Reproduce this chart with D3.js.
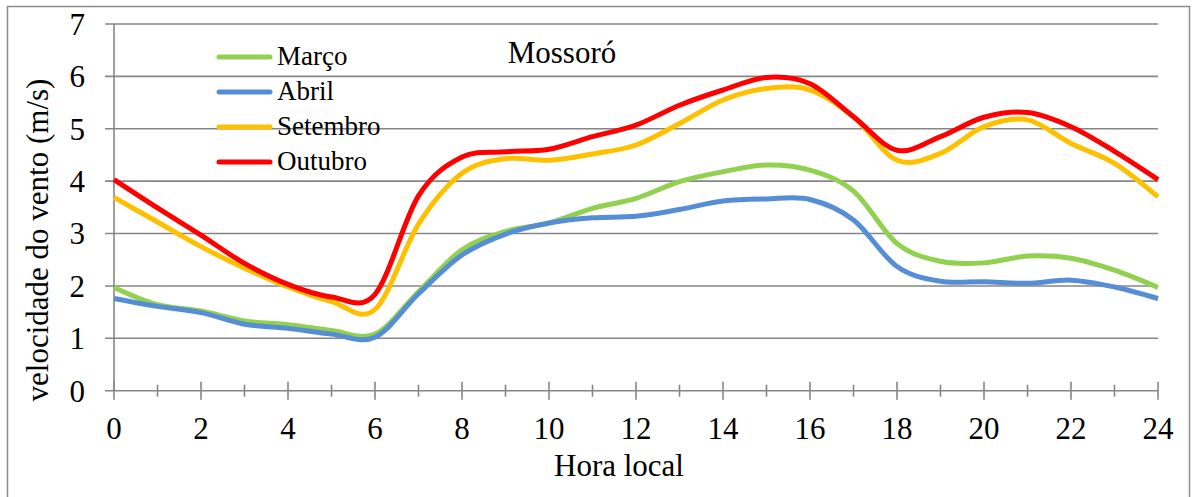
<!DOCTYPE html>
<html>
<head>
<meta charset="utf-8">
<script src="https://cdn.jsdelivr.net/npm/d3@7"></script>
<style>
  html, body { margin: 0; padding: 0; background: #fff; }
  svg { display: block; font-family: "Liberation Serif", "Times New Roman", serif; }
</style>
</head>
<body>
<svg id="chart" width="1192" height="497"></svg>
<script>
const hours = d3.range(0, 25);
const xTickLabels = [0, 2, 4, 6, 8, 10, 12, 14, 16, 18, 20, 22, 24];
const yTickLabels = [0, 1, 2, 3, 4, 5, 6, 7];
const seriesNames = ["Março", "Abril", "Setembro", "Outubro"];
const seriesColors = ["#92D050", "#558ED5", "#FFC000", "#FF0000"];
const marco    = [1.97,1.64,1.52,1.33,1.26,1.15,1.08,1.89,2.69,3.04,3.20,3.48,3.67,3.99,4.18,4.31,4.21,3.81,2.81,2.47,2.44,2.57,2.53,2.30,1.97];
const abril    = [1.76,1.61,1.49,1.27,1.19,1.08,1.02,1.85,2.59,2.99,3.20,3.30,3.33,3.46,3.62,3.66,3.65,3.26,2.37,2.09,2.08,2.05,2.11,1.98,1.76];
const setembro = [3.69,3.22,2.75,2.34,1.98,1.70,1.55,3.18,4.15,4.43,4.40,4.52,4.69,5.10,5.55,5.77,5.74,5.23,4.40,4.53,5.04,5.17,4.72,4.34,3.70];
const outubro  = [4.03,3.49,2.97,2.43,2.03,1.79,1.84,3.72,4.46,4.56,4.61,4.85,5.07,5.45,5.74,5.98,5.86,5.23,4.59,4.85,5.22,5.31,5.04,4.57,4.03];
const seriesValues = [marco, abril, setembro, outubro];

const svg = d3.select("#chart");
const gridColor = "#868686";

// outer border
svg.append("rect").attr("x", 7.5).attr("y", 6.5).attr("width", 1182).attr("height", 500)
  .attr("fill", "none").attr("stroke", "#8c8c8c").attr("stroke-width", 1.5);

const x = d3.scaleLinear().domain([0, 24]).range([114, 1158]);
const y = d3.scaleLinear().domain([0, 7]).range([390.7, 24]);

// horizontal gridlines (with outward tick extension)
svg.append("g").selectAll("line").data(yTickLabels).join("line")
  .attr("x1", 105).attr("x2", x(24))
  .attr("y1", d => y(d)).attr("y2", d => y(d))
  .attr("stroke", gridColor).attr("stroke-width", 1.6);

// y axis line
svg.append("line").attr("x1", x(0)).attr("x2", x(0)).attr("y1", y(7)).attr("y2", y(0))
  .attr("stroke", gridColor).attr("stroke-width", 1.6);

// x ticks (major & minor, crossing the axis)
svg.append("g").selectAll("line").data(hours).join("line")
  .attr("x1", d => x(d)).attr("x2", d => x(d))
  .attr("y1", d => d % 2 === 0 ? y(0) - 9 : y(0) - 6)
  .attr("y2", d => d % 2 === 0 ? y(0) + 9 : y(0) + 6)
  .attr("stroke", gridColor).attr("stroke-width", 1.6);

// y tick labels
svg.append("g").selectAll("text").data(yTickLabels).join("text")
  .attr("x", 85).attr("y", d => y(d)).attr("dy", "0.35em")
  .attr("text-anchor", "end").attr("font-size", 31).attr("fill", "#000")
  .text(d => d);

// x tick labels
svg.append("g").selectAll("text").data(xTickLabels).join("text")
  .attr("x", d => x(d)).attr("y", 439)
  .attr("text-anchor", "middle").attr("font-size", 31).attr("fill", "#000")
  .text(d => d);

// axis titles
svg.append("text").attr("x", 619).attr("y", 476).attr("text-anchor", "middle")
  .attr("font-size", 31).text("Hora local");
svg.append("text").attr("transform", "translate(48,240) rotate(-90)")
  .attr("text-anchor", "middle").attr("font-size", 31).text("velocidade  do vento (m/s)");

// title
svg.append("text").attr("x", 562).attr("y", 63).attr("text-anchor", "middle")
  .attr("font-size", 31).text("Mossoró");

// lines
const line = d3.line().x((d, i) => x(hours[i])).y(d => y(d)).curve(d3.curveCardinal.tension(0));
svg.append("g").selectAll("path").data(seriesValues).join("path")
  .attr("d", d => line(d))
  .attr("fill", "none")
  .attr("stroke", (d, i) => seriesColors[i])
  .attr("stroke-width", 5)
  .attr("stroke-linejoin", "round");

// legend
const legend = svg.append("g").selectAll("g").data(seriesNames).join("g")
  .attr("transform", (d, i) => `translate(0, ${57 + i * 35})`);
legend.append("line").attr("x1", 219).attr("x2", 270).attr("y1", 0).attr("y2", 0)
  .attr("stroke", (d, i) => seriesColors[i]).attr("stroke-width", 5).attr("stroke-linecap", "round");
legend.append("text").attr("x", 277).attr("y", 8).attr("font-size", 27).text(d => d);
</script>
</body>
</html>
